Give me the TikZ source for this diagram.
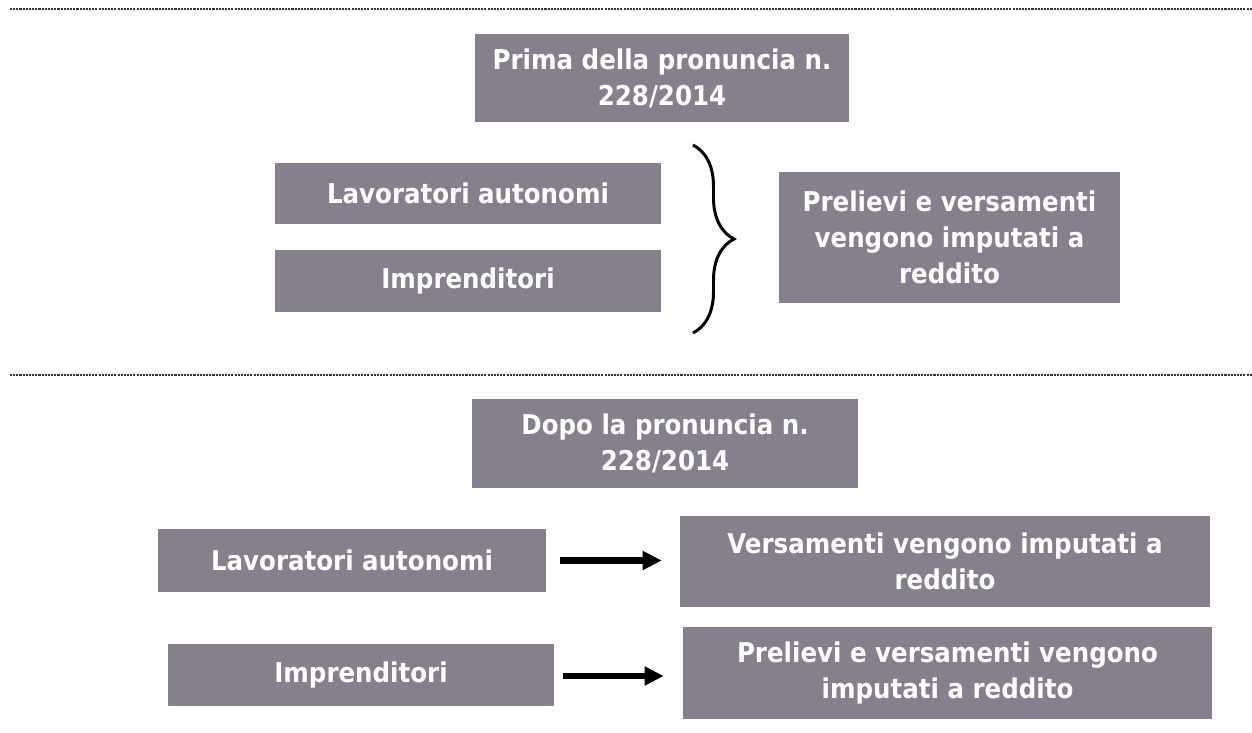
\documentclass[tikz,border=0pt]{standalone}
\usepackage{fontspec}
\setmainfont[FakeStretch=0.9]{DejaVu Sans}
\usetikzlibrary{arrows.meta}
\usetikzlibrary{decorations.pathreplacing}
\definecolor{boxgrey}{RGB}{133,127,142}
\tikzstyle{block}=[fill=boxgrey, text=white, font=\bfseries\fontsize{15.5}{20.5}\selectfont, align=center, inner sep=0pt]
\tikzstyle{separator}=[draw=black!80, line width=1.3pt, dash pattern=on 1.2pt off 0.6pt]
\tikzstyle{group brace}=[decorate, decoration={brace, amplitude=0.82cm, aspect=0.5}, line width=1.7pt]
\tikzstyle{implies}=[-{Triangle[length=0.38cm, width=0.36cm]}, line width=3.6pt]

\begin{document}
\begin{tikzpicture}[x=0.02cm, y=-0.02cm]
  \useasboundingbox (0,0) rectangle (1252,733);
  % before
  \draw[separator] (10,9) -- (1252,9);
  \node[block, minimum width=7.48cm, minimum height=1.76cm] (prima) at (662,78)
    {Prima della pronuncia n.\\228/2014};
  \node[block, minimum width=7.72cm, minimum height=1.22cm] (autonomi before) at (468,193.5)
    {Lavoratori autonomi};
  \node[block, minimum width=7.72cm, minimum height=1.24cm] (imprenditori before) at (468,281)
    {Imprenditori};
  \node[block, minimum width=6.82cm, minimum height=2.62cm] (both before) at (949.5,237.5)
    {Prelievi e versamenti\\vengono imputati a\\reddito};
  \coordinate (brace top) at (693,145);
  \coordinate (brace bottom) at (693,333);
  \draw[group brace] (brace top) -- (brace bottom);
  % after
  \draw[separator] (10,375) -- (1252,375);
  \node[block, minimum width=7.72cm, minimum height=1.78cm] (dopo) at (665,443.5)
    {Dopo la pronuncia n.\\228/2014};
  \node[block, minimum width=7.76cm, minimum height=1.26cm] (autonomi after) at (352,560.5)
    {Lavoratori autonomi};
  \node[block, minimum width=7.72cm, minimum height=1.24cm] (imprenditori after) at (361,675)
    {Imprenditori};
  \node[block, minimum width=10.6cm, minimum height=1.82cm] (versamenti after) at (945,561.5)
    {Versamenti vengono imputati a\\reddito};
  \node[block, minimum width=10.58cm, minimum height=1.84cm] (both after) at (947.5,673)
    {Prelievi e versamenti vengono\\imputati a reddito};
  \draw[implies, shorten <=0.28cm, shorten >=0.36cm]
    (autonomi after.east) -- (autonomi after.east -| versamenti after.west);
  \draw[implies, shorten <=0.18cm, shorten >=0.38cm]
    ([yshift=-0.02cm]imprenditori after.east) -- ([yshift=-0.02cm]imprenditori after.east -| both after.west);
\end{tikzpicture}
\end{document}
